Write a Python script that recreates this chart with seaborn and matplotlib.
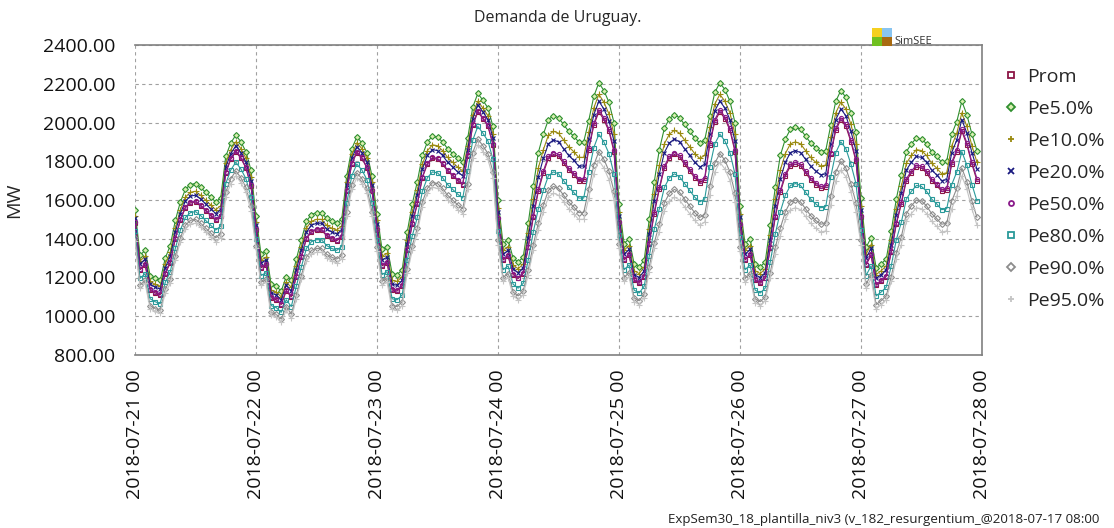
import matplotlib
matplotlib.use("Agg")
import pandas as pd
import matplotlib.pyplot as plt
import matplotlib.dates as mdates
from matplotlib.lines import Line2D
from matplotlib.patches import Rectangle
import seaborn as sns

title = "Demanda de Uruguay."
ylabel = "MW"
footer = "ExpSem30_18_plantilla_niv3 (v_182_resurgentium_@2018-07-17 08:00"
start = "2018-07-21 00:00"
end = "2018-07-28 00:00"
series_names = ["Prom", "Pe5.0%", "Pe10.0%", "Pe20.0%", "Pe50.0%", "Pe80.0%", "Pe90.0%", "Pe95.0%"]

prom = [
    1480, 1240, 1265, 1135, 1120, 1110, 1220, 1275, 1400, 1495, 1560, 1585, 1590, 1570, 1545, 1520, 1495, 1515, 1740, 1810, 1850, 1815, 1765, 1670,
    1445, 1250, 1265, 1095, 1085, 1060, 1130, 1100, 1205, 1305, 1400, 1435, 1445, 1445, 1415, 1400, 1390, 1410, 1645, 1785, 1845, 1815, 1765, 1645,
    1445, 1260, 1275, 1135, 1130, 1155, 1340, 1475, 1580, 1715, 1785, 1815, 1810, 1785, 1750, 1725, 1700, 1680, 1825, 1985, 2055, 2020, 1980, 1885,
    1500, 1290, 1310, 1215, 1195, 1220, 1355, 1510, 1645, 1740, 1815, 1835, 1825, 1790, 1755, 1730, 1700, 1700, 1860, 1985, 2055, 2015, 1955, 1850,
    1480, 1290, 1315, 1185, 1170, 1205, 1375, 1530, 1655, 1765, 1815, 1835, 1820, 1785, 1750, 1715, 1690, 1705, 1885, 2005, 2055, 2020, 1960, 1850,
    1470, 1290, 1315, 1185, 1170, 1195, 1350, 1510, 1640, 1725, 1775, 1785, 1775, 1740, 1705, 1680, 1660, 1665, 1835, 1960, 2015, 1980, 1900, 1800,
    1510, 1265, 1315, 1160, 1180, 1205, 1330, 1475, 1580, 1700, 1740, 1770, 1765, 1740, 1700, 1675, 1645, 1650, 1785, 1850, 1955, 1885, 1785, 1700,
]
pe5 = [
    1550, 1315, 1340, 1210, 1195, 1185, 1300, 1365, 1495, 1590, 1655, 1680, 1685, 1665, 1640, 1615, 1590, 1610, 1825, 1895, 1935, 1900, 1850, 1755,
    1515, 1320, 1335, 1165, 1155, 1130, 1205, 1185, 1295, 1395, 1490, 1525, 1535, 1535, 1505, 1490, 1480, 1500, 1725, 1865, 1925, 1895, 1845, 1725,
    1530, 1345, 1360, 1220, 1215, 1240, 1435, 1580, 1695, 1830, 1900, 1930, 1925, 1900, 1865, 1840, 1815, 1795, 1920, 2080, 2150, 2115, 2075, 1980,
    1600, 1375, 1395, 1300, 1280, 1305, 1480, 1670, 1845, 1940, 2015, 2035, 2025, 1990, 1955, 1930, 1900, 1900, 2010, 2135, 2205, 2165, 2105, 2000,
    1580, 1375, 1400, 1270, 1255, 1290, 1500, 1695, 1860, 1970, 2020, 2040, 2025, 1990, 1955, 1920, 1895, 1910, 2035, 2155, 2205, 2170, 2110, 2000,
    1570, 1375, 1400, 1270, 1255, 1280, 1470, 1665, 1830, 1915, 1965, 1975, 1965, 1930, 1895, 1870, 1850, 1855, 1985, 2110, 2165, 2130, 2050, 1950,
    1610, 1355, 1405, 1250, 1270, 1295, 1440, 1605, 1730, 1850, 1890, 1920, 1915, 1890, 1850, 1825, 1795, 1800, 1940, 2005, 2110, 2040, 1940, 1855,
]
pe10 = [
    1520, 1285, 1310, 1180, 1165, 1155, 1270, 1330, 1455, 1550, 1615, 1640, 1645, 1625, 1600, 1575, 1550, 1570, 1790, 1860, 1900, 1865, 1815, 1720,
    1485, 1290, 1305, 1135, 1125, 1100, 1175, 1150, 1260, 1360, 1455, 1490, 1500, 1500, 1470, 1455, 1445, 1465, 1695, 1835, 1895, 1865, 1815, 1695,
    1495, 1310, 1325, 1185, 1180, 1205, 1395, 1540, 1650, 1785, 1855, 1885, 1880, 1855, 1820, 1795, 1770, 1750, 1880, 2040, 2110, 2075, 2035, 1940,
    1560, 1340, 1360, 1265, 1245, 1270, 1430, 1605, 1765, 1860, 1935, 1955, 1945, 1910, 1875, 1850, 1820, 1820, 1950, 2075, 2145, 2105, 2045, 1940,
    1540, 1340, 1365, 1235, 1220, 1255, 1450, 1630, 1780, 1890, 1940, 1960, 1945, 1910, 1875, 1840, 1815, 1830, 1975, 2095, 2145, 2110, 2050, 1940,
    1530, 1340, 1365, 1235, 1220, 1245, 1420, 1605, 1755, 1840, 1890, 1900, 1890, 1855, 1820, 1795, 1775, 1780, 1925, 2050, 2105, 2070, 1990, 1890,
    1570, 1320, 1370, 1215, 1235, 1260, 1395, 1555, 1670, 1790, 1830, 1860, 1855, 1830, 1790, 1765, 1735, 1740, 1880, 1945, 2050, 1980, 1880, 1795,
]
pe20 = [
    1505, 1270, 1295, 1165, 1150, 1140, 1250, 1310, 1435, 1530, 1595, 1620, 1625, 1605, 1580, 1555, 1530, 1550, 1770, 1840, 1880, 1845, 1795, 1700,
    1470, 1275, 1290, 1120, 1110, 1085, 1160, 1130, 1240, 1340, 1435, 1470, 1480, 1480, 1450, 1435, 1425, 1445, 1675, 1815, 1875, 1845, 1795, 1675,
    1475, 1290, 1305, 1165, 1160, 1185, 1375, 1515, 1625, 1760, 1830, 1860, 1855, 1830, 1795, 1770, 1745, 1725, 1860, 2020, 2090, 2055, 2015, 1920,
    1540, 1320, 1340, 1245, 1225, 1250, 1405, 1570, 1720, 1815, 1890, 1910, 1900, 1865, 1830, 1805, 1775, 1775, 1915, 2040, 2110, 2070, 2010, 1905,
    1520, 1320, 1345, 1215, 1200, 1235, 1425, 1595, 1735, 1845, 1895, 1915, 1900, 1865, 1830, 1795, 1770, 1785, 1940, 2060, 2110, 2075, 2015, 1905,
    1510, 1320, 1345, 1215, 1200, 1225, 1395, 1570, 1710, 1795, 1845, 1855, 1845, 1810, 1775, 1750, 1730, 1735, 1890, 2015, 2070, 2035, 1955, 1855,
    1550, 1300, 1350, 1195, 1215, 1240, 1370, 1525, 1635, 1755, 1795, 1825, 1820, 1795, 1755, 1730, 1700, 1705, 1845, 1910, 2015, 1945, 1845, 1760,
]
pe50 = [
    1485, 1245, 1270, 1140, 1125, 1115, 1225, 1280, 1405, 1500, 1565, 1590, 1595, 1575, 1550, 1525, 1500, 1520, 1745, 1815, 1855, 1820, 1770, 1675,
    1450, 1255, 1270, 1100, 1090, 1065, 1135, 1105, 1210, 1310, 1405, 1440, 1450, 1450, 1420, 1405, 1395, 1415, 1650, 1790, 1850, 1820, 1770, 1650,
    1450, 1265, 1280, 1140, 1135, 1160, 1345, 1480, 1585, 1720, 1790, 1820, 1815, 1790, 1755, 1730, 1705, 1685, 1830, 1990, 2060, 2025, 1985, 1890,
    1505, 1295, 1315, 1220, 1200, 1225, 1360, 1520, 1655, 1750, 1825, 1845, 1835, 1800, 1765, 1740, 1710, 1710, 1870, 1995, 2065, 2025, 1965, 1860,
    1485, 1295, 1320, 1190, 1175, 1210, 1380, 1540, 1665, 1775, 1825, 1845, 1830, 1795, 1760, 1725, 1700, 1715, 1895, 2015, 2065, 2030, 1970, 1860,
    1475, 1295, 1320, 1190, 1175, 1200, 1355, 1520, 1650, 1735, 1785, 1795, 1785, 1750, 1715, 1690, 1670, 1675, 1845, 1970, 2025, 1990, 1910, 1810,
    1515, 1270, 1320, 1165, 1185, 1210, 1335, 1480, 1590, 1710, 1750, 1780, 1775, 1750, 1710, 1685, 1655, 1660, 1795, 1860, 1965, 1895, 1795, 1710,
]
pe80 = [
    1440, 1195, 1220, 1090, 1075, 1065, 1175, 1230, 1350, 1445, 1510, 1535, 1540, 1520, 1495, 1470, 1445, 1465, 1685, 1755, 1795, 1760, 1710, 1615,
    1400, 1210, 1225, 1055, 1045, 1020, 1085, 1050, 1155, 1255, 1350, 1385, 1395, 1395, 1365, 1350, 1340, 1360, 1585, 1725, 1785, 1755, 1705, 1585,
    1395, 1215, 1230, 1090, 1085, 1110, 1290, 1415, 1510, 1645, 1715, 1745, 1740, 1715, 1680, 1655, 1630, 1610, 1750, 1910, 1980, 1945, 1905, 1810,
    1440, 1240, 1260, 1165, 1145, 1170, 1290, 1435, 1555, 1650, 1725, 1745, 1735, 1700, 1665, 1640, 1610, 1610, 1745, 1870, 1940, 1900, 1840, 1735,
    1420, 1240, 1265, 1135, 1120, 1155, 1310, 1450, 1555, 1665, 1715, 1735, 1720, 1685, 1650, 1615, 1590, 1605, 1770, 1890, 1940, 1905, 1845, 1735,
    1410, 1240, 1265, 1135, 1120, 1145, 1280, 1425, 1540, 1625, 1675, 1685, 1675, 1640, 1605, 1580, 1560, 1565, 1720, 1845, 1900, 1865, 1785, 1685,
    1445, 1210, 1260, 1105, 1125, 1150, 1260, 1395, 1485, 1605, 1645, 1675, 1670, 1645, 1605, 1580, 1550, 1555, 1680, 1745, 1850, 1780, 1680, 1595,
]
pe90 = [
    1405, 1160, 1185, 1055, 1040, 1030, 1140, 1190, 1310, 1405, 1470, 1495, 1500, 1480, 1455, 1430, 1405, 1425, 1640, 1710, 1750, 1715, 1665, 1570,
    1365, 1175, 1190, 1020, 1010, 985, 1050, 1010, 1110, 1210, 1305, 1340, 1350, 1350, 1320, 1305, 1295, 1315, 1540, 1680, 1740, 1710, 1660, 1540,
    1355, 1180, 1195, 1055, 1050, 1075, 1245, 1365, 1455, 1590, 1660, 1690, 1685, 1660, 1625, 1600, 1575, 1555, 1685, 1845, 1915, 1880, 1840, 1745,
    1395, 1200, 1220, 1125, 1105, 1130, 1240, 1370, 1480, 1575, 1650, 1670, 1660, 1625, 1590, 1565, 1535, 1535, 1655, 1780, 1850, 1810, 1750, 1645,
    1375, 1200, 1225, 1095, 1080, 1115, 1255, 1380, 1475, 1585, 1635, 1655, 1640, 1605, 1570, 1535, 1510, 1525, 1670, 1790, 1840, 1805, 1745, 1635,
    1360, 1195, 1220, 1090, 1075, 1100, 1225, 1355, 1455, 1540, 1590, 1600, 1590, 1555, 1520, 1495, 1475, 1480, 1620, 1745, 1800, 1765, 1685, 1585,
    1395, 1165, 1215, 1060, 1080, 1105, 1205, 1325, 1410, 1530, 1570, 1600, 1595, 1570, 1530, 1505, 1475, 1480, 1595, 1660, 1765, 1695, 1595, 1510,
]
pe95 = [
    1390, 1145, 1170, 1040, 1025, 1015, 1120, 1170, 1290, 1385, 1450, 1475, 1480, 1460, 1435, 1410, 1385, 1405, 1615, 1685, 1725, 1690, 1640, 1545,
    1350, 1160, 1175, 1005, 995, 970, 1030, 990, 1090, 1190, 1285, 1320, 1330, 1330, 1300, 1285, 1275, 1295, 1515, 1655, 1715, 1685, 1635, 1515,
    1335, 1160, 1175, 1035, 1030, 1055, 1225, 1340, 1430, 1565, 1635, 1665, 1660, 1635, 1600, 1575, 1550, 1530, 1655, 1815, 1885, 1850, 1810, 1715,
    1370, 1180, 1200, 1105, 1085, 1110, 1215, 1340, 1445, 1540, 1615, 1635, 1625, 1590, 1555, 1530, 1500, 1500, 1610, 1735, 1805, 1765, 1705, 1600,
    1350, 1180, 1205, 1075, 1060, 1095, 1230, 1350, 1435, 1545, 1595, 1615, 1600, 1565, 1530, 1495, 1470, 1485, 1625, 1745, 1795, 1760, 1700, 1590,
    1335, 1175, 1200, 1070, 1055, 1080, 1200, 1320, 1415, 1500, 1550, 1560, 1550, 1515, 1480, 1455, 1435, 1440, 1575, 1700, 1755, 1720, 1640, 1540,
    1370, 1145, 1195, 1040, 1060, 1085, 1180, 1295, 1370, 1490, 1530, 1560, 1555, 1530, 1490, 1465, 1435, 1440, 1555, 1620, 1725, 1655, 1555, 1470,
]

y_ticks = [800, 1000, 1200, 1400, 1600, 1800, 2000, 2200, 2400]

values = [prom, pe5, pe10, pe20, pe50, pe80, pe90, pe95]
colors = ["#8c1545", "#2f8f2f", "#9a8a10", "#1a1a80", "#8a1a8a", "#2a9a9a", "#8c8c8c", "#c4c4c4"]
markers = ["s", "D", "+", "x", "o", "s", "D", "+"]
msizes = [3.3, 3.0, 4.2, 3.4, 3.0, 3.3, 3.0, 4.2]
mfaces = ["none", "#d8f0b0", "none", "none", "none", "none", "none", "none"]

sns.set_theme(style="white")
plt.rcParams["font.family"] = ["Open Sans", "DejaVu Sans"]

times = pd.date_range(start, periods=len(prom), freq="h")

fig = plt.figure(figsize=(11.14, 5.28), dpi=100)
ax = fig.add_axes([135 / 1114, 1 - 355 / 528, (982 - 135) / 1114, (355 - 45) / 528])

handles = []
for name, vals, c, m, ms, mf in zip(series_names, values, colors, markers, msizes, mfaces):
    df = pd.DataFrame({"t": times, "v": vals})
    sns.lineplot(data=df, x="t", y="v", ax=ax, color=c, linewidth=0.8,
                 marker=m, markersize=ms, markerfacecolor=mf, markeredgecolor=c,
                 markeredgewidth=0.8, legend=False)
    handles.append(Line2D([], [], linestyle="none", marker=m, markersize=ms + 0.6,
                          markerfacecolor=mf, markeredgecolor=c, markeredgewidth=1.3))

ax.set_xlim(pd.Timestamp(start), pd.Timestamp(end))
ax.set_ylim(y_ticks[0], y_ticks[-1])
ax.set_yticks(y_ticks)
ax.yaxis.set_major_formatter(plt.FuncFormatter(lambda v, p: f"{v:.2f}"))
ax.xaxis.set_major_locator(mdates.DayLocator())
ax.xaxis.set_major_formatter(mdates.DateFormatter("%Y-%m-%d %H"))
ax.tick_params(axis="both", length=0, labelsize=14, colors="#111111")
ax.tick_params(axis="y", pad=14)
ax.tick_params(axis="x", pad=10)
plt.setp(ax.get_xticklabels(), rotation=90)
ax.set_xlabel("")
ax.set_ylabel(ylabel, fontsize=14, labelpad=14)
ax.grid(True, color="#a0a0a0", linestyle=(0, (3, 3)), linewidth=0.8)
ax.spines["left"].set_visible(False)
for side in ["top", "bottom", "right"]:
    ax.spines[side].set_color("#808080")
    ax.spines[side].set_linewidth(1.2)

fig.text(558 / 1114, 1 - 18 / 528, title, ha="center", va="center", fontsize=11.5)

fig.legend(handles, series_names, loc="upper left", bbox_to_anchor=(1001 / 1114, 1 - 68 / 528),
           frameon=False, fontsize=14, handlelength=1.0, handletextpad=0.35,
           labelspacing=0.72, borderaxespad=0, borderpad=0)

# SimSEE logo
logo = [(872, 28, "#f5d020"), (882, 28, "#88c4f0"), (872, 37, "#70c020"), (882, 37, "#a86a10")]
for x0, y0, col in logo:
    fig.patches.append(Rectangle((x0 / 1114, 1 - (y0 + 9) / 528), 10 / 1114, 9 / 528,
                                 transform=fig.transFigure, facecolor=col, edgecolor="none"))
fig.text(894 / 1114, 1 - 41 / 528, "SimSEE", fontsize=8, ha="left", va="center", color="#333333")

fig.text(668 / 1114, 1 - 519 / 528, footer, fontsize=9.6, ha="left", va="center", color="#222222")

fig.savefig("out.png", dpi=100, facecolor="white")
